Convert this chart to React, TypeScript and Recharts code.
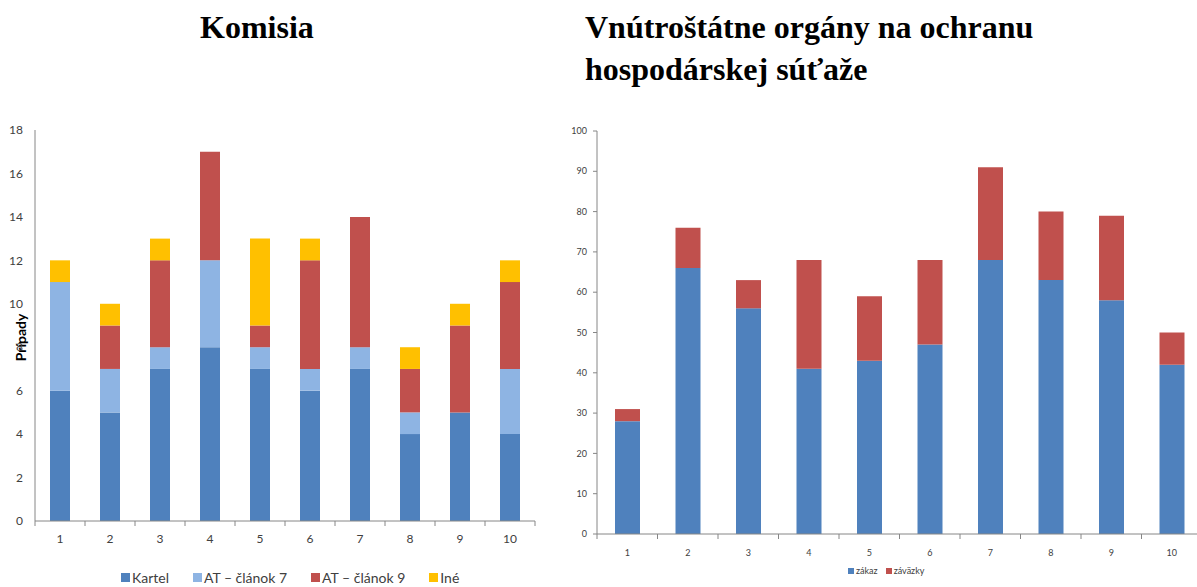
import { Bar, BarChart, Label, XAxis, YAxis } from 'recharts'

const years = ['1', '2', '3', '4', '5', '6', '7', '8', '9', '10']

// Komisia
const kartel = [6, 5, 7, 8, 7, 6, 7, 4, 5, 4]
const at7 = [5, 2, 1, 4, 1, 1, 1, 1, 0, 3]
const at9 = [0, 2, 4, 5, 1, 5, 6, 2, 4, 4]
const ine = [1, 1, 1, 0, 4, 1, 0, 1, 1, 1]
const leftTicks = [0, 2, 4, 6, 8, 10, 12, 14, 16, 18]

// Vnútroštátne orgány
const zakaz = [28, 66, 56, 41, 43, 47, 68, 63, 58, 42]
const zavazky = [3, 10, 7, 27, 16, 21, 23, 17, 21, 8]
const rightTicks = [0, 10, 20, 30, 40, 50, 60, 70, 80, 90, 100]

const leftData = years.map((y, i) => ({
  name: y,
  kartel: kartel[i],
  at7: at7[i],
  at9: at9[i],
  ine: ine[i],
}))

const rightData = years.map((y, i) => ({ name: y, zakaz: zakaz[i], zavazky: zavazky[i] }))

const AXIS = '#868686'
const TEXT = '#404040'
const FONT = 'Lato, "Open Sans", sans-serif'

const leftSeries = [
  { key: 'kartel', name: 'Kartel', color: '#4F81BD' },
  { key: 'at7', name: 'AT – článok 7', color: '#8EB4E3' },
  { key: 'at9', name: 'AT – článok 9', color: '#C0504D' },
  { key: 'ine', name: 'Iné', color: '#FFC000' },
]

const rightSeries = [
  { key: 'zakaz', name: 'zákaz', color: '#4F81BD' },
  { key: 'zavazky', name: 'záväzky', color: '#C0504D' },
]

// category tick: label in the middle, tick mark on the category borders
const BorderTick = (props: any) => {
  const { x, y, payload, index, fontSize, dy, last } = props
  const half = payload?.offset ?? 0
  return (
    <g>
      <line x1={x - half} x2={x - half} y1={y - 8} y2={y - 3} stroke={AXIS} />
      {index === last && <line x1={x + half} x2={x + half} y1={y - 8} y2={y - 3} stroke={AXIS} />}
      <text x={x} y={y + dy} textAnchor="middle" fontSize={fontSize} fill={TEXT} fontFamily={FONT}>
        {payload.value}
      </text>
    </g>
  )
}

const LegendRow = ({
  items,
  left,
  top,
  fontSize,
  box,
  gap,
}: {
  items: { name: string; color: string }[]
  left: number
  top: number
  fontSize: number
  box: number
  gap: number
}) => (
  <div
    style={{
      position: 'absolute',
      left,
      top,
      display: 'flex',
      alignItems: 'center',
      gap,
      fontFamily: FONT,
      fontSize,
      color: TEXT,
      whiteSpace: 'nowrap',
    }}
  >
    {items.map((it) => (
      <span key={it.name} style={{ display: 'flex', alignItems: 'center', gap: 2 }}>
        <span style={{ width: box, height: box, background: it.color, display: 'inline-block' }} />
        {it.name}
      </span>
    ))}
  </div>
)

const titleStyle = {
  position: 'absolute' as const,
  margin: 0,
  fontFamily: '"Liberation Serif", "Times New Roman", serif',
  fontWeight: 'bold' as const,
  fontSize: 32,
  lineHeight: '42px',
  color: '#000',
}

export default function App() {
  return (
    <div
      style={{
        position: 'absolute',
        left: 0,
        top: 0,
        width: 1197,
        height: 587,
        background: '#fff',
        overflow: 'hidden',
      }}
    >
      <div style={{ ...titleStyle, left: 200, top: 6 }}>Komisia</div>
      <div style={{ ...titleStyle, left: 585, top: 6 }}>
        Vnútroštátne orgány na ochranu
        <br />
        hospodárskej súťaže
      </div>

      <div style={{ position: 'absolute', left: 0, top: 0 }}>
        <BarChart
          width={545}
          height={587}
          data={leftData}
          margin={{ top: 130, right: 10, bottom: 48, left: 10 }}
          barSize={20}
        >
          <XAxis
            dataKey="name"
            axisLine={{ stroke: AXIS }}
            tickLine={false}
            height={18}
            interval={0}
            tick={<BorderTick fontSize={12} dy={14} last={years.length - 1} />}
          />
          <YAxis
            domain={[0, 18]}
            ticks={leftTicks}
            width={25}
            axisLine={{ stroke: AXIS }}
            tickLine={false}
            tickSize={6}
            tickMargin={6}
            tick={{ fontSize: 12, fill: TEXT, fontFamily: FONT }}
          >
            <Label
              content={({ viewBox }: any) => {
                const cx = viewBox.x + 10
                const cy = viewBox.y + viewBox.height / 2 + 12
                return (
                  <text
                    x={cx}
                    y={cy}
                    transform={`rotate(-90 ${cx} ${cy})`}
                    textAnchor="middle"
                    dominantBaseline="central"
                    fontSize={14}
                    fontWeight="bold"
                    fontFamily={FONT}
                    fill="#000"
                  >
                    Prípady
                  </text>
                )
              }}
            />
          </YAxis>
          {leftSeries.map((s) => (
            <Bar key={s.key} dataKey={s.key} name={s.name} stackId="a" fill={s.color} isAnimationActive={false} />
          ))}
        </BarChart>
      </div>

      <div style={{ position: 'absolute', left: 550, top: 0 }}>
        <BarChart
          width={652}
          height={587}
          data={rightData}
          margin={{ top: 131, right: 0, bottom: 33, left: 7 }}
          barSize={25}
        >
          <XAxis
            dataKey="name"
            axisLine={{ stroke: AXIS }}
            tickLine={false}
            height={20}
            interval={0}
            tick={<BorderTick fontSize={9} dy={14} last={years.length - 1} />}
          />
          <YAxis
            domain={[0, 100]}
            ticks={rightTicks}
            width={40}
            axisLine={{ stroke: AXIS }}
            tickLine={{ stroke: AXIS }}
            tickSize={4}
            tickMargin={6}
            tick={{ fontSize: 9, fill: TEXT, fontFamily: FONT }}
          />
          {rightSeries.map((s) => (
            <Bar key={s.key} dataKey={s.key} name={s.name} stackId="a" fill={s.color} isAnimationActive={false} />
          ))}
        </BarChart>
      </div>

      <LegendRow items={leftSeries} left={121} top={569} fontSize={14} box={9} gap={24} />
      <LegendRow items={rightSeries} left={848} top={565} fontSize={9} box={6} gap={8} />
    </div>
  )
}
